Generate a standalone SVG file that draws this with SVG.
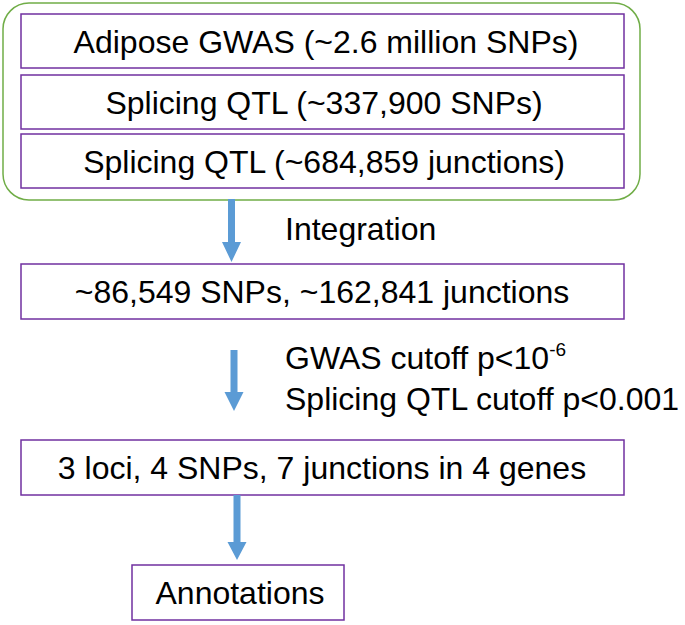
<svg xmlns="http://www.w3.org/2000/svg" width="685" height="625" viewBox="0 0 685 625">
<style>
.box{fill:#fff;stroke:#7030A0;stroke-width:1.5}
.grp{fill:#fff;stroke:#70AD47;stroke-width:1.5}
.t{font-family:"Liberation Sans",Arial,sans-serif;font-size:32px;fill:#000}
.m{text-anchor:middle}
.arr{fill:#5B9BD5}
</style>
<rect width="685" height="625" fill="#fff"/>
<g id="inputs">
<rect class="grp" x="3" y="3" width="637" height="197" rx="26"/>
</g>
<g id="gwas">
<rect class="box" x="21" y="14" width="603" height="54"/>
<text class="t m" x="326" y="53">Adipose GWAS (~2.6 million SNPs)</text>
</g>
<g id="sqtl-snps">
<rect class="box" x="21" y="75" width="603" height="54"/>
<text class="t m" x="324" y="114">Splicing QTL (~337,900 SNPs)</text>
</g>
<g id="sqtl-junctions">
<rect class="box" x="21" y="134" width="603" height="54"/>
<text class="t m" x="324" y="173">Splicing QTL (~684,859 junctions)</text>
</g>
<g id="integrated">
<rect class="box" x="21" y="264" width="603" height="55"/>
<text class="t m" x="322" y="303">~86,549 SNPs, ~162,841 junctions</text>
</g>
<g id="loci">
<rect class="box" x="21" y="440" width="603" height="55"/>
<text class="t m" x="322" y="479">3 loci, 4 SNPs, 7 junctions in 4 genes</text>
</g>
<g id="annotations">
<rect class="box" x="132" y="565" width="212" height="55"/>
<text class="t m" x="240" y="604">Annotations</text>
</g>
<g id="connectors">
<polygon class="arr" points="228,199 235,199 235,242 241,242 231.5,262 222,242 228,242"/>
<polygon class="arr" points="230.5,350 237.5,350 237.5,392 243.5,392 234,411 224.5,392 230.5,392"/>
<polygon class="arr" points="233.5,495 240.5,495 240.5,542 246.5,542 237,560 227.5,542 233.5,542"/>
</g>
<g id="labels">
<text class="t" x="285" y="240">Integration</text>
<text class="t" x="285" y="369">GWAS cutoff p&lt;10<tspan font-size="19" dy="-13">-6</tspan></text>
<text class="t" x="285" y="410">Splicing QTL cutoff p&lt;0.001</text>
</g>
</svg>
